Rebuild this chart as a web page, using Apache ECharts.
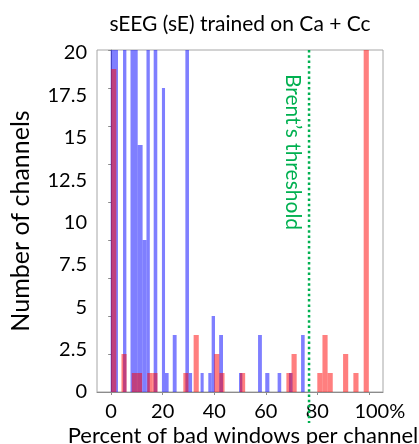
<!DOCTYPE html>
<html><head><meta charset="utf-8">
<script src="https://cdn.jsdelivr.net/npm/echarts@6/dist/echarts.min.js"></script>
<style>html,body{margin:0;padding:0;background:#fff}#c{width:419px;height:444px}</style>
</head><body><div id="c"></div>
<script>
// histogram bins: [start %, end %, channel count]
const blueBins = [
  [-0.2, 2.65, 20], [4.6, 5.9, 20], [7.5, 10.3, 20], [10.3, 12.2, 13], [12.2, 13.7, 8],
  [13.7, 15.0, 20], [16.5, 17.9, 20], [19.7, 20.9, 16], [20.9, 22.3, 1], [23.9, 25.4, 3],
  [28.8, 30.2, 20], [30.2, 31.4, 1], [34.7, 35.9, 1], [37.7, 39.0, 1], [39.0, 40.3, 4],
  [41.9, 43.4, 3], [49.6, 50.9, 1], [57.0, 58.5, 3], [59.8, 61.4, 1], [64.6, 66.0, 1],
  [69.0, 70.4, 1], [73.7, 75.1, 3]
];
const redBins = [
  [0, 2, 17], [4, 6, 2], [8, 10, 1], [10, 12, 1], [14, 16, 1], [16, 18, 1], [28, 30, 1],
  [32, 34, 3], [40, 42, 2], [42, 44, 1], [50, 52, 1], [68, 70, 1], [70, 72, 2], [80, 82, 1],
  [82, 84, 3], [84, 86, 1], [90, 92, 2], [94, 96, 1], [98, 100, 20]
];
const xTickValues = [0, 20, 40, 60, 80, 100];
const yLabelValues = [0, 2.5, 5, 7.5, 10, 12.5, 15, 17.5, 20];
const thresholdValue = 76.8;
const titleText = 'sEEG (sE) trained on Ca + Cc';
const xName = 'Percent of bad windows per channel';
const yName = 'Number of channels';
const thresholdText = 'Brent\u2019s threshold';

const FONT = 'Lato';
const chart = echarts.init(document.getElementById('c'), null, {renderer: 'canvas'});

function makeRender(color) {
  return function (params, api) {
    const x0 = api.value(0), x1 = api.value(1), h = api.value(2);
    const p0 = api.coord([x0, 0]);
    const p1 = api.coord([x1, h]);
    const cs = params.coordSys;
    const shape = echarts.graphic.clipRectByRect(
      {x: p0[0], y: p1[1], width: p1[0] - p0[0], height: p0[1] - p1[1]},
      {x: cs.x, y: cs.y, width: cs.width, height: cs.height});
    return shape && {type: 'rect', shape: shape, style: {fill: color}};
  };
}

chart.setOption({
  animation: false,
  title: {
    text: titleText, left: 235, top: 9, textAlign: 'center',
    textStyle: {fontFamily: FONT, fontSize: 21, fontWeight: 'normal', color: '#000'}
  },
  grid: {left: 90, right: 36, top: 50, bottom: 52, show: true, borderColor: '#a6a6a6', borderWidth: 1, backgroundColor: 'transparent'},
  xAxis: {
    type: 'value', min: -5.5, max: 105.5,
    axisLine: {show: true, lineStyle: {color: '#8c8c8c', width: 1}},
    axisTick: {show: true, customValues: xTickValues, length: 3, lineStyle: {color: '#8c8c8c'}},
    axisLabel: {
      customValues: xTickValues, margin: 10,
      fontFamily: FONT, fontSize: 20, color: '#000',
      formatter: function (v) { return v === 100 ? '{p|100%}' : String(v); },
      rich: {p: {fontFamily: FONT, fontSize: 20, color: '#000', padding: [0, 0, 0, 22]}}
    },
    splitLine: {show: false}
  },
  yAxis: [
    {
      type: 'value', min: 0, max: 18, interval: 2,
      axisLine: {show: true, lineStyle: {color: '#8c8c8c', width: 1}},
      axisTick: {show: true, length: 3, lineStyle: {color: '#8c8c8c'}},
      axisLabel: {show: false},
      splitLine: {show: false},
      name: yName, nameLocation: 'middle', nameGap: 64, nameRotate: 90,
      nameTextStyle: {fontFamily: FONT, fontSize: 25, color: '#000'}
    },
    {
      type: 'value', min: 0, max: 20.17, position: 'left',
      axisLine: {show: false}, axisTick: {show: false}, splitLine: {show: false},
      axisLabel: {customValues: yLabelValues, margin: 10, fontFamily: FONT, fontSize: 20, color: '#000'}
    }
  ],
  series: [
    {
      type: 'custom', name: 'blue', xAxisIndex: 0, yAxisIndex: 0,
      renderItem: makeRender('rgba(0,0,255,0.5)'),
      encode: {x: [0, 1], y: 2}, data: blueBins, z: 2
    },
    {
      type: 'custom', name: 'red', xAxisIndex: 0, yAxisIndex: 0,
      renderItem: makeRender('rgba(255,0,0,0.5)'),
      encode: {x: [0, 1], y: 2}, data: redBins, z: 3
    }
  ]
});

const tx = chart.convertToPixel({xAxisIndex: 0}, thresholdValue);
const yTop = chart.convertToPixel({yAxisIndex: 0}, 18);
chart.setOption({
  graphic: [
    {
      type: 'line', z: 10,
      shape: {x1: tx, y1: yTop, x2: tx, y2: 423},
      style: {stroke: '#00b050', lineWidth: 2.5, lineDash: [2.5, 2.8]}
    },
    {
      type: 'text', z: 10, x: tx - 16, y: 152, rotation: -Math.PI / 2,
      style: {text: thresholdText, fill: '#00b050', fontFamily: FONT, fontSize: 21, align: 'center', verticalAlign: 'middle'}
    },
    {
      type: 'text', z: 10, x: 243, y: 436,
      style: {text: xName, fill: '#000', fontFamily: FONT, fontSize: 22, align: 'center', verticalAlign: 'middle'}
    }
  ]
});
</script></body></html>
